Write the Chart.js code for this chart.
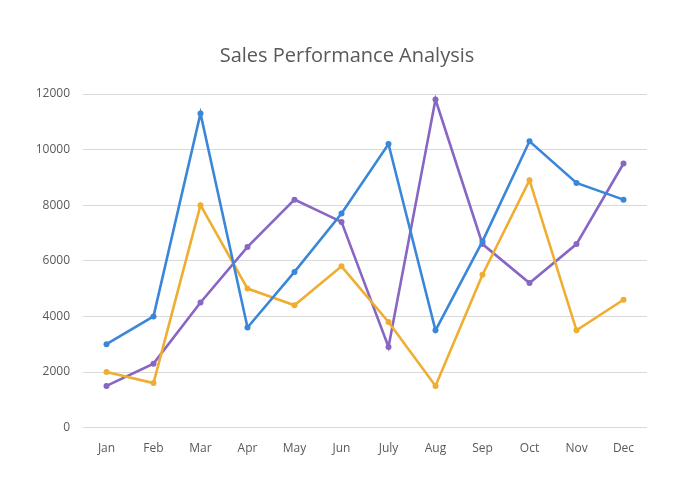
<!DOCTYPE html>
<html>
<head>
<meta charset="utf-8">
<script src="https://cdn.jsdelivr.net/npm/chart.js@4"></script>
<style>
html,body{margin:0;padding:0;background:#fff;}
#wrap{width:700px;height:500px;}
</style>
</head>
<body>
<div id="wrap"><canvas id="c" width="700" height="500"></canvas></div>
<script>
const months = ['Jan','Feb','Mar','Apr','May','Jun','July','Aug','Sep','Oct','Nov','Dec'];
const seriesBlue = [3000,4000,11300,3600,5600,7700,10200,3500,6700,10300,8800,8200];
const seriesOrange = [2000,1600,8000,5000,4400,5800,3800,1500,5500,8900,3500,4600];
const seriesPurple = [1500,2300,4500,6500,8200,7400,2900,11800,6600,5200,6600,9500];
const yTicks = [0,2000,4000,6000,8000,10000,12000];
const titleText = 'Sales Performance Analysis';

const blue = '#3A87D9', orange = '#EFAE32', purple = '#8766C4';
function ds(label, data, color){
  return {label, data, borderColor: color, backgroundColor: color, borderWidth: 2.6,
    pointRadius: 3, pointHoverRadius: 3, pointBackgroundColor: color, pointBorderColor: color,
    pointBorderWidth: 0, tension: 0, fill: false};
}
new Chart(document.getElementById('c'), {
  type: 'line',
  data: { labels: months, datasets: [ds('Blue', seriesBlue, blue), ds('Orange', seriesOrange, orange), ds('Purple', seriesPurple, purple)] },
  options: {
    responsive: false, animation: false,
    layout: { padding: { top: 44, right: 6, bottom: 30, left: 0 } },
    plugins: {
      legend: { display: false },
      tooltip: { enabled: false },
      title: { display: true, text: titleText, color: '#595959',
        font: { family: 'Open Sans', size: 20, weight: 'normal' }, padding: { top: 0, bottom: 26 } }
    },
    scales: {
      x: { offset: true,
        grid: { display: false, drawTicks: false },
        border: { display: false },
        ticks: { color: '#595959', font: { family: 'Open Sans', size: 12 }, padding: 14 } },
      y: { min: 0, max: 12000,
        afterBuildTicks: (s) => { s.ticks = yTicks.map(v => ({ value: v })); },
        afterFit: (s) => { s.width = 83; },
        grid: { color: '#D9D9D9', lineWidth: 1, drawTicks: false },
        border: { display: false },
        ticks: { color: '#595959', font: { family: 'Open Sans', size: 12 }, padding: 13,
          callback: (v) => String(v) } },
      yRight: { position: 'right', min: 0, max: 12000,
        afterFit: (s) => { s.width = 47; },
        grid: { display: false, drawTicks: false },
        border: { display: false },
        ticks: { display: false } }
    }
  }
});
</script>
</body>
</html>
